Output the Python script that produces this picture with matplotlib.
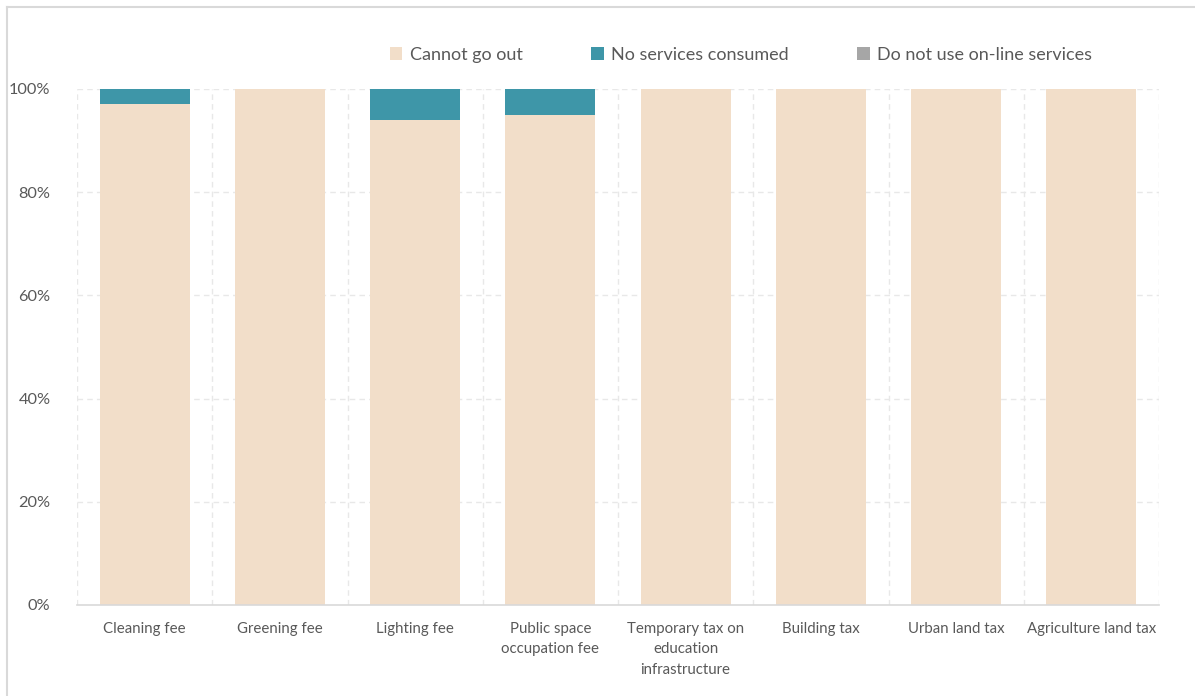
import matplotlib
matplotlib.use("Agg")
import matplotlib.pyplot as plt
from matplotlib.lines import Line2D
from matplotlib.patches import Patch
import numpy as np

categories = ["Cleaning fee", "Greening fee", "Lighting fee",
              "Public space\noccupation fee",
              "Temporary tax on\neducation\ninfrastructure",
              "Building tax", "Urban land tax", "Agriculture land tax"]
cannot_go_out = [97, 100, 94, 95, 100, 100, 100, 100]
no_services = [3, 0, 6, 5, 0, 0, 0, 0]
no_online = [0, 0, 0, 0, 0, 0, 0, 0]
series_names = ["Cannot go out", "No services consumed", "Do not use on-line services"]
colors = ["#F2DEC9", "#3E96A8", "#A6A6A6"]
yticks = [0, 20, 40, 60, 80, 100]

plt.rcParams['font.family'] = ['Lato', 'DejaVu Sans']

fig = plt.figure(figsize=(11.95, 6.96), dpi=100)
ax = fig.add_axes([77/1195, 1 - 605/696, (1159-77)/1195, (605-89)/696])

x = np.arange(len(categories))
w = 0.667
ax.bar(x, cannot_go_out, w, color=colors[0], zorder=2, label=series_names[0])
ax.bar(x, no_services, w, bottom=cannot_go_out, color=colors[1], zorder=2, label=series_names[1])
bottom3 = np.array(cannot_go_out) + np.array(no_services)
ax.bar(x, no_online, w, bottom=bottom3, color=colors[2], zorder=2, label=series_names[2])

ax.set_xlim(-0.5, len(categories) - 0.5)
ax.set_ylim(0, 100)
ax.set_yticks(yticks)
ax.set_yticklabels([f"{v}%" for v in yticks], fontsize=11.8, color="#595959")
ax.set_xticks(x)
ax.set_xticklabels(categories, fontsize=10.8, color="#595959", linespacing=1.6)
ax.tick_params(axis='both', length=0)
ax.tick_params(axis='x', pad=12)
ax.tick_params(axis='y', pad=19)

# grid: horizontal dashed lines and vertical dashed lines at category boundaries
for v in yticks[1:]:
    ax.axhline(v, color="#E8E8E8", lw=1, ls=(0, (4, 3)), zorder=1)
for k in range(0, len(categories) + 1):
    ax.axvline(k - 0.5, color="#E8E8E8", lw=1, ls=(0, (4, 3)), zorder=1)

for s in ["top", "right", "left"]:
    ax.spines[s].set_visible(False)
ax.spines["bottom"].set_color("#D9D9D9")
ax.spines["bottom"].set_linewidth(1.2)

handles = [Patch(facecolor=c, edgecolor="none") for c in colors]
fig.legend(handles, series_names, loc="center", bbox_to_anchor=(741/1195, 1 - 55/696),
           ncol=3, frameon=False, fontsize=13, handlelength=0.7, handleheight=0.7,
           handletextpad=0.4, columnspacing=3.8, labelcolor="#595959")

# outer border (top and left visible)
fig.add_artist(Line2D([7/1195, 1], [1 - 7/696, 1 - 7/696], color="#D9D9D9", lw=1.5,
                      transform=fig.transFigure))
fig.add_artist(Line2D([7/1195, 7/1195], [0, 1 - 7/696], color="#D9D9D9", lw=1.5,
                      transform=fig.transFigure))

fig.savefig("out.png", dpi=100)
